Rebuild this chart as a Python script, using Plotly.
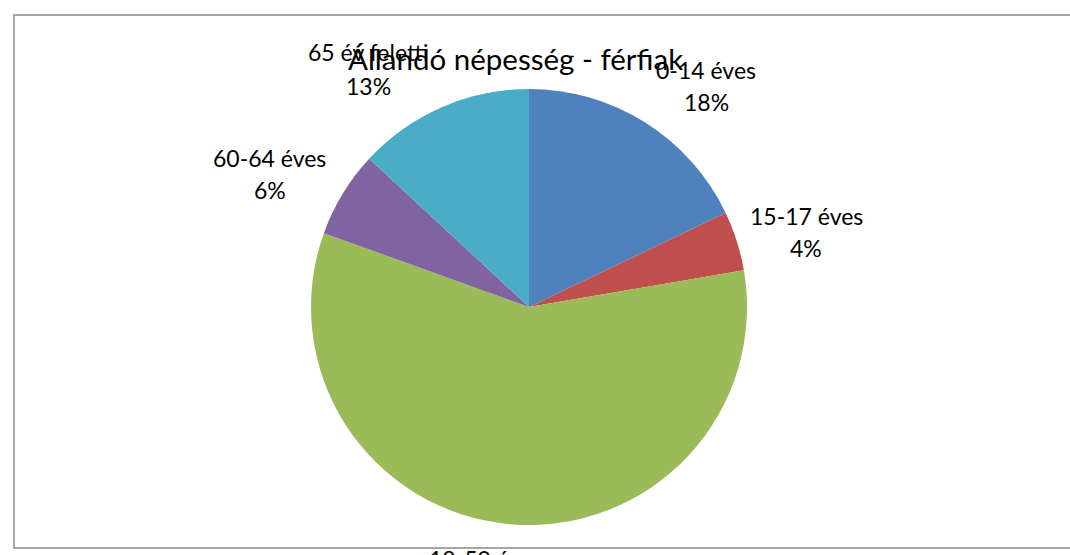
import plotly.graph_objects as go

categories = ["0-14 éves", "15-17 éves", "18-59 éves", "60-64 éves", "65 év feletti"]
values = [17.9, 4.4, 58.2, 6.4, 13.1]
colors = ["#4F81BD", "#C0504D", "#9BBB59", "#8064A2", "#4BACC6"]
title_text = "Állandó népesség - férfiak"

W, H = 1070, 555
FONT = "Lato"
LBL = 23

def px(x):
    return x / W

def py(y):
    return 1 - y / H

fig = go.Figure(go.Pie(
    labels=categories,
    values=values,
    marker=dict(colors=colors, line=dict(width=0)),
    sort=False,
    direction="clockwise",
    rotation=0,
    textinfo="none",
    showlegend=False,
    domain=dict(x=[px(311), px(747)], y=[py(525), py(89)]),
))

total = sum(values)
pcts = [f"{round(v / total * 100)}%" for v in values]

# label anchor positions (pixel centers of name line / percent line)
label_pos = {
    "0-14 éves": (706, 70, 102),
    "15-17 éves": (806, 216, 248),
    "60-64 éves": (270, 158, 190),
    "65 év feletti": (368, 52, 86),
}

annotations = []
for cat, pct in zip(categories, pcts):
    if cat in label_pos:
        x, y1, y2 = label_pos[cat]
        annotations.append(dict(x=px(x), y=py(y1), xref="paper", yref="paper",
                                text=cat, showarrow=False, xanchor="center", yanchor="middle",
                                font=dict(family=FONT, size=LBL, color="#000000")))
        annotations.append(dict(x=px(x), y=py(y2), xref="paper", yref="paper",
                                text=pct, showarrow=False, xanchor="center", yanchor="middle",
                                font=dict(family=FONT, size=LBL, color="#000000")))

# bottom label, cut off by the window edge
annotations.append(dict(x=px(427), y=py(543), xref="paper", yref="paper",
                        text=categories[2], showarrow=False, xanchor="left", yanchor="top",
                        font=dict(family=FONT, size=LBL, color="#000000")))

annotations.append(dict(x=px(515), y=py(58), xref="paper", yref="paper",
                        text=title_text, showarrow=False, xanchor="center", yanchor="middle",
                        font=dict(family=FONT, size=29.5, color="#000000")))

fig.update_layout(
    width=W, height=H,
    margin=dict(l=0, r=0, t=0, b=0),
    paper_bgcolor="white",
    plot_bgcolor="white",
    annotations=annotations,
    shapes=[dict(type="rect", xref="paper", yref="paper",
                 x0=px(14), x1=1.05, y0=py(548), y1=py(15),
                 line=dict(color="#8a8a8a", width=1.5), layer="below")],
)

fig.write_html(
    "out.html",
    config={"displayModeBar": False},
    post_script="document.body.style.margin='0';document.body.style.overflow='hidden';"
                "document.documentElement.style.overflow='hidden';",
)
